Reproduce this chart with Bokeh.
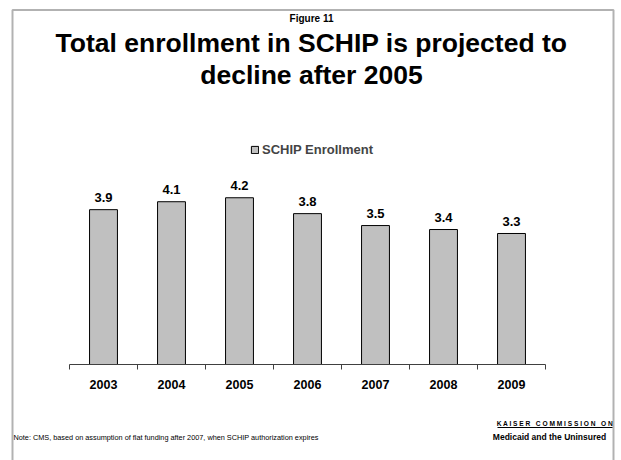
from bokeh.plotting import figure
from bokeh.models import (ColumnDataSource, Range1d, FixedTicker, Label, BoxAnnotation,
                          Legend, LegendItem)
from bokeh.core.properties import value
from bokeh.embed import file_html
from bokeh.resources import INLINE

years = ["2003", "2004", "2005", "2006", "2007", "2008", "2009"]
enrollment = [3.9, 4.1, 4.2, 3.8, 3.5, 3.4, 3.3]
value_labels = ["3.9", "4.1", "4.2", "3.8", "3.5", "3.4", "3.3"]
series_name = "SCHIP Enrollment"
fig_label = "Figure 11"
title_lines = ["Total enrollment in SCHIP is projected to", "decline after 2005"]
note = "Note: CMS, based on assumption of flat funding after 2007, when SCHIP authorization expires"
NB = "\u00a0"
brand_top = (NB * 3).join(" ".join(w) for w in ["KAISER", "COMMISSION", "ON"])
brand_bottom = "Medicaid and the Uninsured"

FONT = "Liberation Sans"
W, H = 621, 460
# layout (pixels): axis from x=69 to 545, baseline at y=364, 39.7 px per unit
X0, X1, Y0, PPU = 69, 545, 364, 39.7
n = len(years)
ppx = (X1 - X0) / n

def dx(px):
    return (px - X0) / ppx

def dy(py):
    return (Y0 - py) / PPU

xs = [i + 0.5 for i in range(n)]
src = ColumnDataSource(dict(x=xs, year=years, value=enrollment, label=value_labels))

p = figure(width=W, height=H, output_backend="svg", toolbar_location=None,
           x_range=Range1d(dx(0), dx(W)), y_range=Range1d(dy(H), dy(0)),
           y_axis_location=None, min_border=0)
p.outline_line_color = None
p.xgrid.grid_line_color = None
p.ygrid.grid_line_color = None
p.background_fill_color = "white"
p.border_fill_color = "white"

r = p.vbar(x="x", top="value", width=0.41, source=src,
           fill_color="#C0C0C0", line_color="black", line_width=1)

p.text(x="x", y="value", text="label", source=src, text_align="center",
       text_baseline="alphabetic", y_offset=-12, text_font=value(FONT),
       text_font_style="bold", text_font_size="13px", text_color="black")

ax = p.xaxis[0]
ax.fixed_location = 0
ax.bounds = (0, n)
ax.ticker = FixedTicker(ticks=xs, minor_ticks=list(range(n + 1)))
ax.major_label_overrides = {x: y for x, y in zip(xs, years)}
ax.major_tick_out = 0
ax.major_tick_in = 0
ax.minor_tick_out = 5
ax.minor_tick_in = 0
ax.axis_line_color = "#404040"
ax.minor_tick_line_color = "#404040"
ax.major_label_text_font = FONT
ax.major_label_text_font_style = "bold"
ax.major_label_text_font_size = "12.5px"
ax.major_label_text_color = "black"
ax.major_label_standoff = 10

legend = Legend(items=[LegendItem(label=series_name, renderers=[r])],
                location=(250, 303), orientation="horizontal",
                glyph_width=9, glyph_height=9, label_height=10,
                label_text_font=FONT, label_text_font_style="bold",
                label_text_font_size="13px", label_standoff=3,
                padding=0, margin=0, border_line_color=None,
                background_fill_alpha=0)
p.add_layout(legend)

def lab(text, x, y, size, bold=True, align="center"):
    p.add_layout(Label(x=x, y=H - y, x_units="screen", y_units="screen", text=text,
                       text_align=align, text_baseline="alphabetic",
                       text_font=FONT, text_font_style="bold" if bold else "normal",
                       text_font_size=size, text_color="black"))

lab(fig_label, 311, 18, "10px")
lab(title_lines[0], 311, 42, "26.5px")
lab(title_lines[1], 311, 74, "26.5px")
lab(note, 13, 437, "7.3px", bold=False, align="left")
lab(brand_top, 554.5, 423, "6.6px")
lab(brand_bottom, 549, 436, "8.5px")

# underline of the brand line
p.add_layout(BoxAnnotation(left=dx(497), right=dx(612), top=dy(426.5), bottom=dy(427.5),
                           fill_color="black", fill_alpha=1, line_color=None))

# slide frame
p.add_layout(BoxAnnotation(left=dx(12), right=dx(613), top=dy(9.5), bottom=dy(475),
                           fill_alpha=0, line_color="black", line_width=2))

open("out.html", "w").write(file_html(p, INLINE))
